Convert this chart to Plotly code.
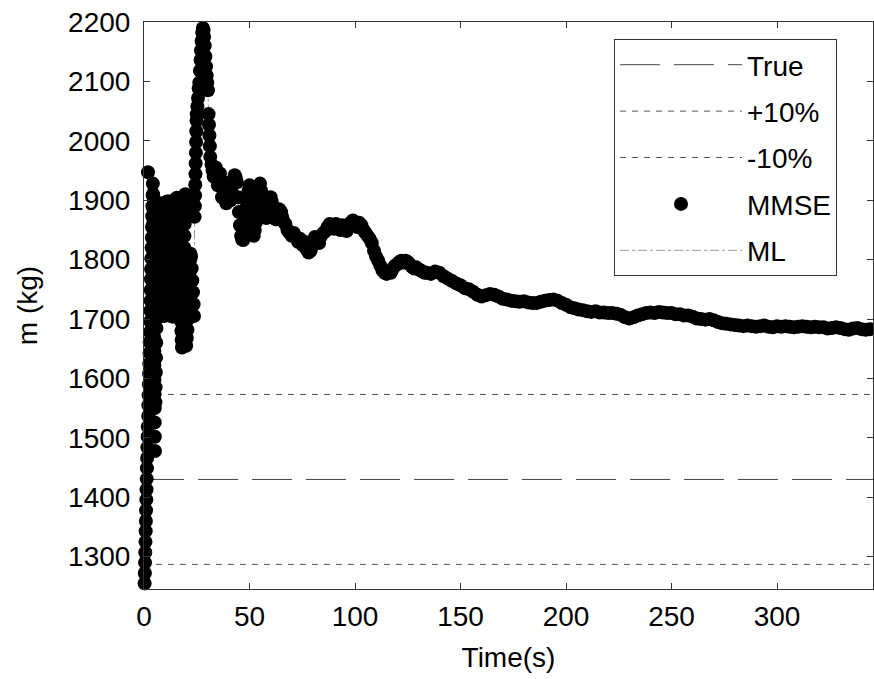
import plotly.graph_objects as go

# ---------------- data ----------------
true_mass = 1430.0          # kg, "True" line
x_limits = [0.0, 345.5]     # time span shown (s)
y_limits = [1245.6, 2200.0]
x_ticks = [0, 50, 100, 150, 200, 250, 300]
y_ticks = [1300, 1400, 1500, 1600, 1700, 1800, 1900, 2000, 2100, 2200]

# MMSE estimate, start-up transient (t in s, m in kg)
t_start = [0.3, 0.4, 0.5, 0.6, 0.7, 0.8, 0.9, 1.0, 1.1, 1.2, 1.3, 1.4, 1.5, 1.6, 1.7, 1.8, 1.9, 2.0,
           2.1, 2.2, 2.3, 2.4, 2.5, 2.6, 2.7, 2.8, 2.9, 3.0, 3.1, 3.2, 3.3, 3.4, 3.5, 3.6, 3.7, 3.8,
           3.9, 4.0, 4.1, 4.2,
           4.30, 4.35, 4.40, 4.45, 4.50, 4.55, 4.60, 4.65, 4.70, 4.75, 4.80, 4.85, 4.90, 4.95, 5.00,
           5.05, 5.10, 5.15, 5.20,
           5.4, 5.5, 5.6, 5.7, 5.8, 5.9, 6.0, 6.1, 6.2, 6.3, 6.4, 6.5, 6.6, 6.7, 6.8]
m_start = [1255, 1272, 1290, 1307, 1325, 1343, 1360, 1378, 1396, 1413, 1431, 1449, 1466, 1484, 1502, 1519, 1947, 1537,
           1555, 1572, 1590, 1608, 1625, 1643, 1661, 1678, 1696, 1714, 1731, 1749, 1767, 1784, 1802, 1820, 1837, 1855,
           1873, 1890, 1908, 1928,
           1910, 1886, 1862, 1838, 1814, 1790, 1766, 1742, 1718, 1694, 1670, 1646, 1622, 1598, 1574,
           1550, 1526, 1502, 1478,
           1560, 1585, 1610, 1635, 1660, 1685, 1710, 1735, 1760, 1785, 1810, 1835, 1860, 1880, 1893]

t_osc = [7.6, 7.7, 7.8, 7.9, 8.0, 8.1, 8.2, 8.3, 8.4, 8.5, 8.6, 8.7, 8.8, 8.9,
         9.6, 9.7, 9.8, 9.9, 10.0, 10.1, 10.2, 10.3, 10.4, 10.5, 10.6, 10.7, 10.8, 10.9,
         11.6, 11.7, 11.8, 11.9, 12.0, 12.1, 12.2, 12.3, 12.4, 12.5, 12.6, 12.7, 12.8, 12.9,
         13.6, 13.7, 13.8, 13.9, 14.0, 14.1, 14.2, 14.3, 14.4, 14.5, 14.6, 14.7, 14.8, 14.9,
         15.6, 15.75, 15.9, 16.05, 16.2, 16.35, 16.5, 16.65, 16.8, 16.95, 17.1, 17.25, 17.4, 17.55,
         17.7, 17.85, 18.0,
         18.3, 18.4, 18.5, 18.6, 18.7, 18.8, 18.9, 19.0, 19.1, 19.2, 19.3, 19.4, 19.5, 19.6,
         20.0, 20.3, 20.6, 20.9, 21.1, 21.3, 21.5, 21.7, 21.9, 22.0, 22.3, 22.6, 22.9, 23.2, 23.5, 23.7]
m_osc = [1895, 1880, 1865, 1850, 1835, 1820, 1805, 1790, 1775, 1760, 1745, 1730, 1715, 1705,
         1705, 1720, 1735, 1750, 1765, 1780, 1795, 1810, 1825, 1840, 1855, 1870, 1885, 1898,
         1898, 1883, 1868, 1853, 1838, 1823, 1808, 1793, 1778, 1763, 1748, 1733, 1718, 1705,
         1704, 1719, 1734, 1749, 1764, 1779, 1794, 1809, 1824, 1839, 1854, 1869, 1884, 1902,
         1904, 1888, 1872, 1856, 1840, 1824, 1808, 1792, 1776, 1760, 1744, 1728, 1712, 1696,
         1680, 1665, 1652,
         1660, 1680, 1700, 1720, 1740, 1760, 1780, 1800, 1820, 1840, 1860, 1880, 1895, 1910,
         1655, 1668, 1682, 1700, 1720, 1740, 1760, 1780, 1800, 1810, 1805, 1785, 1765, 1745, 1725, 1705]

t_spike = [24.0, 24.1, 24.2, 24.3, 24.4, 24.5, 24.6, 24.7, 24.8, 24.9, 25.0,
           25.3, 25.6, 25.9, 26.2,
           26.5, 26.8, 27.0, 27.3, 27.6, 27.9, 28.2, 28.5, 28.8, 29.1, 29.4, 29.7,
           30.0, 30.3, 30.6, 30.8, 31.0, 31.2, 31.4]
m_spike = [1872, 1890, 1908, 1926, 1944, 1962, 1980, 1998, 2016, 2034, 2045,
           2058, 2072, 2088, 2098,
           2118, 2136, 2152, 2168, 2182, 2190, 2186, 2175, 2160, 2142, 2125, 2110,
           2098, 2085, 2045, 2027, 2009, 1991, 1973]

t_mid = [32.0, 32.5, 33.0, 33.5, 34.0, 34.5, 35.0, 35.5, 36.0, 36.5, 37.0, 37.5, 38.0, 38.5, 39.0, 39.5,
         40.0, 40.5, 41.0, 41.5, 42.0, 42.5, 43.0, 43.5, 44.0, 44.5, 45.0, 45.5, 46.0, 46.5, 47.0, 47.5,
         48.0, 48.5, 49.0, 49.5, 50.0, 50.5, 51.0, 51.5, 52.0, 52.5, 53.0, 53.5, 54.0, 54.5, 55.0, 55.5,
         56.0, 56.5, 57.0, 57.5, 58.0, 58.5, 59.0, 59.5, 60.0, 60.5, 61.0, 61.5, 62.0, 62.5, 63.0, 63.5,
         64.0, 64.5, 65.0, 65.5, 66.0]
m_mid = [1960, 1950, 1940, 1948, 1955, 1940, 1925, 1935, 1945, 1925, 1905, 1918, 1930, 1912, 1895, 1908,
         1920, 1910, 1900, 1912, 1925, 1935, 1942, 1938, 1930, 1905, 1880, 1858, 1840, 1834, 1833, 1850,
         1870, 1888, 1905, 1916, 1925, 1902, 1880, 1858, 1840, 1850, 1862, 1882, 1902, 1915, 1928, 1916,
         1905, 1892, 1880, 1875, 1870, 1882, 1895, 1900, 1905, 1898, 1890, 1880, 1870, 1868, 1868, 1876,
         1885, 1882, 1880, 1872, 1865]

t_settle = [67, 68, 69, 70, 71, 72, 73, 74, 75, 76, 77, 78, 79, 80, 81, 82, 83, 84, 85, 86, 87, 88, 89, 90,
            91, 92, 93, 94, 95, 96, 97, 98, 99, 100, 101, 102, 103, 104, 105, 106, 107, 108, 109, 110,
            111, 112, 113, 114, 115, 116, 117, 118, 119, 120, 121, 122, 123, 124, 125, 126, 127, 128,
            129, 130, 131, 132, 133]
m_settle = [1860, 1850, 1845, 1840, 1845, 1838, 1830, 1835, 1825, 1830, 1818, 1812, 1815, 1825, 1838, 1832,
            1828, 1840, 1845, 1848, 1855, 1860, 1858, 1852, 1860, 1856, 1850, 1858, 1852, 1848, 1855, 1862,
            1866, 1860, 1855, 1862, 1858, 1850, 1845, 1840, 1835, 1828, 1815, 1805, 1798, 1790, 1782, 1778,
            1776, 1780, 1778, 1785, 1790, 1792, 1796, 1798, 1795, 1798, 1796, 1792, 1788, 1785, 1787, 1784,
            1782, 1780, 1778]

t_tail = [134, 136, 138, 140, 142, 144, 146, 148, 150, 152, 154, 156, 158, 160, 162, 164, 166, 168, 170,
          172, 174, 176, 178, 180, 182, 184, 186, 188, 190, 192, 194, 196, 198, 200, 202, 204, 206, 208,
          210, 212, 214, 216, 218, 220, 222, 224, 226, 228, 230, 232, 234, 236, 238, 240, 242, 244, 246,
          248, 250, 252, 254, 256, 258, 260, 262, 264, 266, 268, 270, 272, 274, 276, 278, 280, 282, 284,
          286, 288, 290, 292, 294, 296, 298, 300, 302, 304, 306, 308, 310, 312, 314, 316, 318, 320, 322,
          324, 326, 328, 330, 332, 334, 336, 338, 340, 342, 344, 346]
m_tail = [1778, 1776, 1780, 1778, 1772, 1768, 1764, 1760, 1757, 1752, 1750, 1746, 1741, 1738, 1740, 1742,
          1741, 1738, 1734, 1733, 1731, 1730, 1729, 1730, 1728, 1727, 1727, 1729, 1731, 1732, 1733, 1731,
          1727, 1724, 1720, 1718, 1716, 1715, 1713, 1712, 1713, 1711, 1711, 1710, 1710, 1709, 1707, 1703,
          1701, 1703, 1706, 1708, 1710, 1711, 1710, 1712, 1711, 1710, 1710, 1708, 1708, 1706, 1706, 1704,
          1701, 1700, 1699, 1700, 1698, 1695, 1693, 1692, 1691, 1690, 1689, 1688, 1689, 1688, 1687, 1688,
          1689, 1687, 1686, 1688, 1687, 1688, 1687, 1686, 1687, 1688, 1687, 1686, 1687, 1686, 1686, 1684,
          1685, 1686, 1685, 1683, 1682, 1684, 1685, 1683, 1682, 1683, 1682]

# ---------------- assemble ----------------
t_mmse = t_start + t_osc + t_spike + t_mid + t_settle + t_tail
m_mmse = m_start + m_osc + m_spike + m_mid + m_settle + m_tail
t_ml = t_mmse
m_ml = m_mmse

FONT = "Liberation Sans, Arial, Helvetica, sans-serif"
FS = 28

fig = go.Figure()

levels = [("True", true_mass, "40px,14px", 1.0, "#444444"),
          ("+10%", true_mass * 1.1, "6px,6px", 1.0, "#555555"),
          ("-10%", true_mass * 0.9, "6px,6px", 1.0, "#555555")]
for i, (name, lev, dash, w, col) in enumerate(levels):
    fig.add_trace(go.Scatter(
        x=x_limits, y=[lev, lev], mode="lines", name=name,
        line=dict(color=col, width=w, dash=dash),
        legendgroup=f"g{i}", legendrank=i + 1, hoverinfo="skip"))

# ML drawn underneath the MMSE markers (hidden by them in the reference)
fig.add_trace(go.Scatter(
    x=t_ml, y=m_ml, mode="lines", name="ML",
    line=dict(color="#9a9a9a", width=1, dash="dashdot"),
    legendgroup="g4", legendrank=5, hoverinfo="skip"))

fig.add_trace(go.Scatter(
    x=t_mmse, y=m_mmse, mode="markers", name="MMSE",
    marker=dict(color="black", size=14, line=dict(width=0)),
    cliponaxis=False, legendgroup="g3", legendrank=4))

axis_common = dict(
    showline=True, linecolor="#333333", linewidth=1, mirror="ticks",
    ticks="inside", ticklen=6, tickwidth=1, tickcolor="#333333",
    showgrid=False, zeroline=False,
    tickfont=dict(family=FONT, size=FS, color="black"),
)

fig.update_layout(
    width=874, height=679,
    margin=dict(l=144, r=1, t=22, b=90),
    paper_bgcolor="white", plot_bgcolor="white",
    font=dict(family=FONT, size=FS, color="black"),
    xaxis=dict(range=x_limits, tickvals=x_ticks, ticklabelstandoff=2,
               title=dict(text="Time(s)", font=dict(family=FONT, size=FS), standoff=16),
               **axis_common),
    yaxis=dict(range=y_limits, tickvals=y_ticks, ticklabelstandoff=7,
               title=dict(text="m (kg)", font=dict(family=FONT, size=FS), standoff=22),
               **axis_common),
    legend=dict(
        x=0.6447, y=0.97, xanchor="left", yanchor="top",
        bgcolor="white", bordercolor="#333333", borderwidth=1,
        font=dict(family=FONT, size=FS, color="black"),
        itemwidth=122, traceorder="grouped", tracegroupgap=7,
    ),
    showlegend=True,
)

fig.write_html("out.html")
